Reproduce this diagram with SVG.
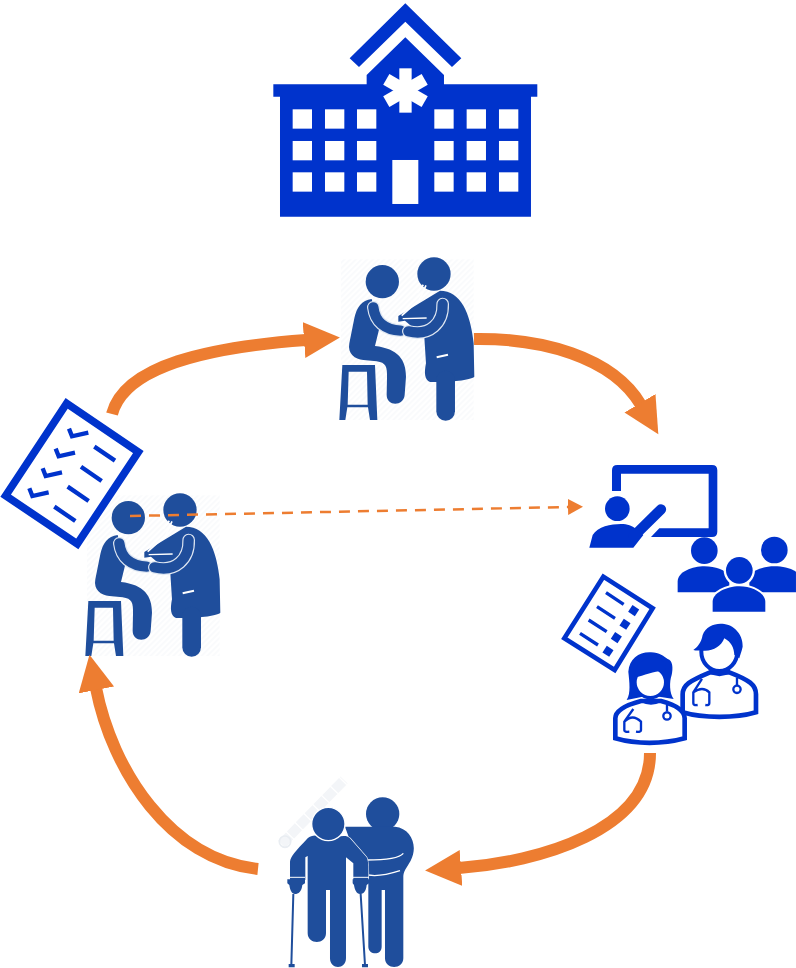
<svg xmlns="http://www.w3.org/2000/svg" width="796" height="968" viewBox="0 0 796 968">
<style>
.ib{fill:#0033cc}
.fb{fill:#1f4e9c}
.wh{fill:#fff}
.conn{fill:none;stroke:#ed7d31;stroke-width:12;marker-end:url(#ah)}
</style>
<defs>
<marker id="ah" markerUnits="userSpaceOnUse" markerWidth="38" markerHeight="38" refX="2" refY="18" orient="auto"><path d="M0,0L36,18L0,36Z" fill="#ed7d31"/></marker>
<marker id="ahs" markerUnits="userSpaceOnUse" markerWidth="16" markerHeight="16" refX="1" refY="8" orient="auto"><path d="M0,0L15,8L0,16Z" fill="#ed7d31"/></marker>
<pattern id="hatch" width="12" height="12" patternUnits="userSpaceOnUse" patternTransform="rotate(-45)"><rect width="12" height="12" fill="#fff"/><rect width="12" height="5" fill="#f9fafc"/></pattern>
<g id="exam">
<rect x="33" y="28" width="398" height="482" fill="url(#hatch)"/>
<circle class="fb" cx="157" cy="95" r="50"/>
<circle class="fb" cx="312" cy="72" r="50"/>
<path class="fb" d="M125,147C95,150 80,172 73,205L58,280C52,312 75,328 100,330L140,334C168,338 172,350 171,385L170,435C170,470 221,470 224,435L228,380C228,330 205,296 135,288L148,235Z"/>
<path d="M130,172C135,215 165,240 212,242" fill="none" stroke="#dfe7f2" stroke-width="38" stroke-linecap="round"/>
<path d="M130,172C135,215 165,240 212,242" fill="none" stroke="#1f4e9c" stroke-width="31" stroke-linecap="round"/>
<path class="fb" d="M330,122C392,122 422,190 431,280L433,380C420,392 340,398 300,396C284,390 282,370 288,340L283,262L225,212L205,215L205,198Z"/>
<path d="M347,390V484" stroke="#1f4e9c" stroke-width="56" stroke-linecap="round" fill="none"/>
<path d="M288,106L268,150L215,197M280,104L262,128" fill="none" stroke="#fff" stroke-width="5"/>
<path d="M218,206L290,204" stroke="#fff" stroke-width="4" fill="none"/>
<path d="M338,162C340,218 300,260 235,244" fill="none" stroke="#dfe7f2" stroke-width="38" stroke-linecap="round"/>
<path d="M338,162C340,218 300,260 235,244" fill="none" stroke="#1f4e9c" stroke-width="31" stroke-linecap="round"/>
<path d="M320,322L354,314" stroke="#fff" stroke-width="6" fill="none"/>
<path class="fb" d="M37,345H135L142,510H120L114,472H52L46,510H28ZM56,365L53,464H113L111,365Z" fill-rule="evenodd"/>
</g>
</defs>

<g id="hospital" transform="translate(260 0) scale(.3333)">
<path class="ib" d="M436,10L604,175L576,201L436,65L297,201L269,175Z"/>
<path class="ib" d="M320,253V225L436,112L552,225V253H832V290H813V650H60V290H40V253Z"/>
<g class="wh">
<rect x="98" y="328" width="58" height="58"/><rect x="195" y="328" width="58" height="58"/><rect x="291" y="328" width="58" height="58"/>
<rect x="523" y="328" width="58" height="58"/><rect x="620" y="328" width="58" height="58"/><rect x="717" y="328" width="58" height="58"/>
<rect x="98" y="423" width="58" height="58"/><rect x="195" y="423" width="58" height="58"/><rect x="291" y="423" width="58" height="58"/>
<rect x="523" y="423" width="58" height="58"/><rect x="620" y="423" width="58" height="58"/><rect x="717" y="423" width="58" height="58"/>
<rect x="98" y="517" width="58" height="58"/><rect x="195" y="517" width="58" height="58"/><rect x="291" y="517" width="58" height="58"/>
<rect x="523" y="517" width="58" height="58"/><rect x="620" y="517" width="58" height="58"/><rect x="717" y="517" width="58" height="58"/>
<rect x="397" y="480" width="78" height="132"/>
<rect x="418" y="205" width="37" height="133"/>
<rect x="418" y="205" width="37" height="133" transform="rotate(60 436.5 271.5)"/>
<rect x="418" y="205" width="37" height="133" transform="rotate(-60 436.5 271.5)"/>
</g>
</g>

<g id="exam-top" transform="translate(330 250) scale(.3333)"><use href="#exam"/></g>
<g id="exam-left" transform="translate(76 486) scale(.3333)"><use href="#exam"/></g>

<g id="checklist-left" transform="translate(0 395) scale(.3333)">
<path d="M200,25L415,171L232,447L17,302Z" fill="#fff" stroke="#0033cc" stroke-width="23"/>
<path d="M283,155L345,197M243,215L305,258M203,275L266,318M163,335L226,378" stroke="#0033cc" stroke-width="13" fill="none"/>
<path d="M207,101L216,124L265,113M167,161L176,184L225,173M128,220L137,243L186,232M88,280L97,303L146,292" stroke="#0033cc" stroke-width="13" fill="none"/>
</g>

<g id="teaching" transform="translate(556 455) scale(.3333)">
<path class="ib" d="M168,108V46Q168,30 184,30H468Q484,30 484,46V230Q484,246 468,246H285L310,220H458V56H195V108Z"/>
<circle class="ib" cx="184" cy="161" r="37"/>
<path class="ib" d="M100,278L110,240C125,215 165,207 195,207C215,207 228,212 240,222L262,240L232,278Z"/>
<path d="M232,245L315,163" stroke="#0033cc" stroke-width="31" stroke-linecap="round" fill="none"/>
</g>

<g id="audience" transform="translate(556 455) scale(.3333)">
<circle class="ib" cx="445" cy="287" r="40"/>
<circle class="ib" cx="655" cy="285" r="40"/>
<path class="ib" d="M365,412V380C365,350 410,334 445,334C480,334 505,345 520,360V412Z"/>
<path class="ib" d="M720,412V350C700,338 680,334 655,334C625,334 595,345 580,360V412Z"/>
<circle class="wh" cx="550" cy="346" r="47"/>
<path class="ib" d="M470,470V440C470,415 510,394 550,394C590,394 628,415 628,440V470Z" stroke="#fff" stroke-width="12" paint-order="stroke"/>
<circle class="ib" cx="550" cy="346" r="40"/>
</g>

<g id="checklist-right" transform="translate(556 455) scale(.3333)">
<path d="M142,365L290,460L176,645L25,550Z" fill="#fff" stroke="#0033cc" stroke-width="14"/>
<path d="M150,413L203,448M123,455L177,490M98,495L152,530M72,535L126,570" stroke="#0033cc" stroke-width="10" fill="none"/>
<g class="ib">
<rect x="221" y="455" width="24" height="24" transform="rotate(33 233 467)"/>
<rect x="195" y="496" width="24" height="24" transform="rotate(33 207 508)"/>
<rect x="169" y="536" width="24" height="24" transform="rotate(33 181 548)"/>
<rect x="144" y="577" width="24" height="24" transform="rotate(33 156 589)"/>
</g>
</g>

<g id="doctor-male" transform="translate(556 455) scale(.3333)">
<path d="M380,772V718C380,690 400,678 462,652H520C580,675 600,690 600,718V772C540,790 440,790 380,772Z" fill="#fff" stroke="#0033cc" stroke-width="14"/>
<path d="M462,650Q490,668 520,650" fill="none" stroke="#0033cc" stroke-width="10"/>
<ellipse cx="490" cy="590" rx="54" ry="58" fill="#fff" stroke="#0033cc" stroke-width="12"/>
<path class="ib" d="M412,585C425,575 435,565 440,540C450,512 480,503 505,507C540,512 562,545 560,575C557,590 552,600 550,610L535,600C535,580 525,560 505,550C495,575 470,590 440,587C430,586 420,588 412,585Z"/>
<path d="M438,672L412,712V745M412,745Q412,752 425,750M412,712Q440,692 460,712V745M460,745Q460,752 448,750" fill="none" stroke="#0033cc" stroke-width="7"/>
<path d="M543,668V690" stroke="#0033cc" stroke-width="7" fill="none"/>
<circle cx="543" cy="703" r="11" fill="#fff" stroke="#0033cc" stroke-width="7"/>
</g>

<g id="doctor-female" transform="translate(556 455) scale(.3333)">
<path d="M178,850V790C178,765 210,750 255,738H315C360,750 386,765 386,790V850C320,868 240,868 178,850Z" fill="#fff" stroke="#0033cc" stroke-width="14"/>
<path d="M255,736Q285,752 315,736" fill="none" stroke="#0033cc" stroke-width="10"/>
<path class="ib" d="M212,735C225,715 220,680 217,650C220,610 250,590 285,592C310,592 325,605 335,612C350,615 352,640 347,660C340,680 340,715 353,732L310,725H260Z"/>
<ellipse cx="283" cy="682" rx="46" ry="46" fill="#fff" stroke="#0033cc" stroke-width="10"/>
<path class="ib" d="M236,668C235,625 270,603 300,608C320,612 332,625 330,650C310,642 270,660 236,668Z"/>
<path d="M232,762L205,800V826M205,826Q205,832 220,830M205,800Q230,775 255,800V826M255,826Q255,832 240,830" fill="none" stroke="#0033cc" stroke-width="7"/>
<path d="M333,750V770" stroke="#0033cc" stroke-width="7" fill="none"/>
<circle cx="333" cy="783" r="11" fill="#fff" stroke="#0033cc" stroke-width="7"/>
</g>

<g id="elder-care" transform="translate(270 770) scale(.3333)">
<path d="M35,222L222,30" stroke="#f3f5f8" stroke-width="30" fill="none" stroke-dasharray="34 4"/>
<circle cx="45" cy="215" r="17" fill="none" stroke="#e9edf2" stroke-width="5"/>
<circle class="fb" cx="338" cy="132" r="50"/>
<path class="fb" d="M225,170H375C425,175 445,230 422,272C408,296 400,305 400,320V565C400,600 345,600 345,565V360H335V530C335,558 295,555 295,530V320L270,295Z"/>
<path d="M400,250C385,268 330,270 290,270C270,275 265,295 280,310C300,320 340,318 390,302" fill="none" stroke="#fff" stroke-width="4"/>
<path class="fb" d="M113,205C130,188 155,200 175,205C200,205 225,190 240,205L290,262C296,275 296,295 295,330H250V280L228,262V565C228,600 180,600 180,565V360H168V490C168,525 113,525 113,490V258L106,262V330H60V275C62,260 75,245 113,205Z" stroke="#fff" stroke-width="4" paint-order="stroke"/>
<circle class="fb" cx="175" cy="162" r="50" stroke="#fff" stroke-width="4"/>
<path d="M70,372L64,585M272,372L285,585" stroke="#1f4e9c" stroke-width="6" fill="none"/>
<path class="fb" d="M52,328H105V340L97,345C95,365 85,372 75,372C65,372 60,360 58,345L52,340ZM248,328H297V340L290,345C288,365 280,372 270,372C260,372 254,360 252,345L248,340Z"/>
<path d="M56,582H74V592H56ZM276,582H294V592H276Z" fill="#1f4e9c"/>
<path d="M52,322H105M248,322H297" stroke="#fff" stroke-width="3" fill="none"/>
</g>

<g id="connectors">
<path class="conn" d="M112,414C125,365 210,347 306,340"/>
<path class="conn" d="M474,339C540,338 612,356 641,405"/>
<path class="conn" d="M650,753C650,830 540,862 459,868"/>
<path class="conn" d="M258,869C170,860 112,770 96,688"/>
<path d="M130,516L569,507" fill="none" stroke="#ed7d31" stroke-width="2.5" stroke-dasharray="11 8" marker-end="url(#ahs)"/>
</g>
</svg>
